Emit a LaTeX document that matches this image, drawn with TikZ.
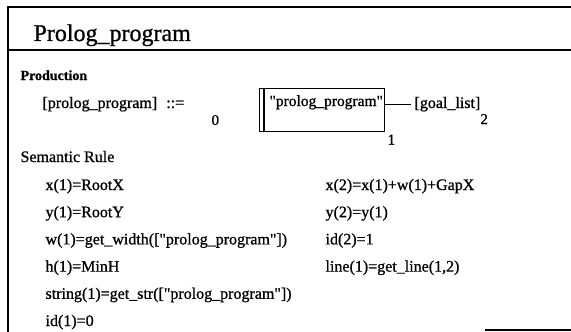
\documentclass[tikz,border=0pt]{standalone}
\usepackage{fontspec}
\setmainfont{Liberation Serif}[FakeBold=0.9]
\usetikzlibrary{positioning}
\tikzset{
  txt/.style={inner sep=0pt, anchor=base west, font=\fontsize{16}{19}\selectfont},
  headtxt/.style={inner sep=0pt, anchor=base west, font=\fontsize{24}{28}\selectfont},
  idx/.style={inner sep=0pt, anchor=base west, font=\fontsize{15}{18}\selectfont},
  termbox/.style={draw, inner sep=0pt, minimum width=125pt, minimum height=43pt},
}
\begin{document}
\begin{tikzpicture}[x=1pt,y=-1pt,line width=1.1pt]
\useasboundingbox (0,0) rectangle (571,332);
% frame
\draw (571,7) -- (8,7) -- (8,332);
\draw (8,50) -- (571,50);
\draw (485,330) -- (571,330);
% title
\node[headtxt] (title) at (33,41) {Prolog\_program};
% production
\node[txt, font=\fontsize{14}{16}\selectfont\bfseries] (prod) at (20,80) {Production};
\node[txt] (lhs) at (42,108) {[prolog\_program]};
\node[txt, right=8pt of lhs.base east, anchor=base west] (def) {::=};
\node[idx] (i0) at (211,125) {0};
\node[termbox, anchor=north west] (term) at (259,88) {};
\draw ([xshift=5pt]term.north west) -- ([xshift=5pt]term.south west);
\node[txt, font=\fontsize{15.5}{18}\selectfont] (termtxt) at (269,106) {\textquotedbl prolog\_program\textquotedbl};
\node[idx, anchor=north west] (i1) at ([xshift=2pt,yshift=-2pt]term.south east) {1};
\node[txt] (goal) at (414,108) {[goal\_list]};
\node[idx] (i2) at ([xshift=-1pt,yshift=-16pt]goal.base east) {2};
\draw[shorten >=3pt] (term.east |- goal.west) -- (goal.west);
% semantic rule
\node[txt] (sem) at (20,162) {Semantic Rule};
\foreach \t [count=\i] in {x(1)=RootX, y(1)=RootY, {w(1)=get\_width([\textquotedbl prolog\_program\textquotedbl])},
    h(1)=MinH, {string(1)=get\_str([\textquotedbl prolog\_program\textquotedbl])}, id(1)=0}
  \node[txt] (l\i) at (45,{190+27.2*(\i-1)}) {\t};
\foreach \t [count=\i] in {x(2)=x(1)+w(1)+GapX, y(2)=y(1), id(2)=1, {line(1)=get\_line(1,2)}}
  \node[txt] (r\i) at (325,{190+27.2*(\i-1)}) {\t};
\end{tikzpicture}
\end{document}
